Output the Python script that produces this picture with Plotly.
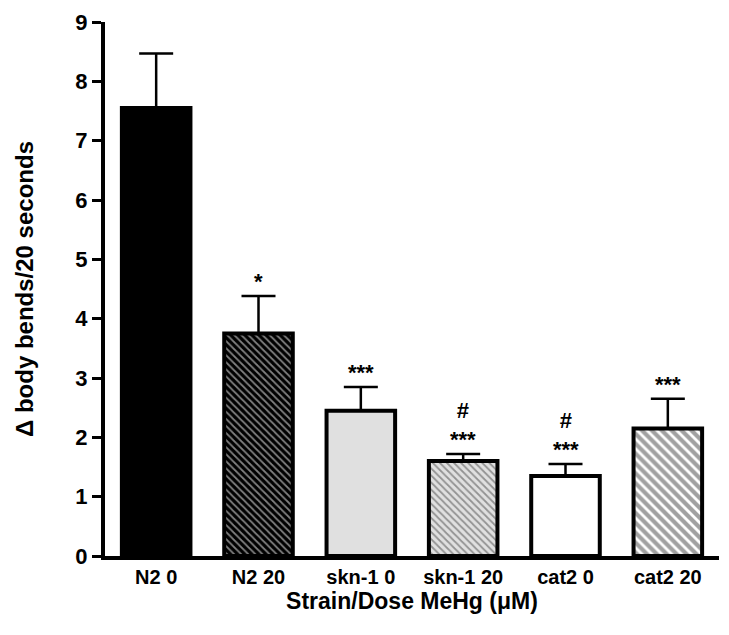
import plotly.graph_objects as go

categories = ["N2 0", "N2 20", "skn-1 0", "skn-1 20", "cat2 0", "cat2 20"]
means = [7.55, 3.75, 2.45, 1.6, 1.35, 2.15]
sem = [0.92, 0.63, 0.40, 0.12, 0.20, 0.50]
sig = ["", "*", "***", "#<br>***", "#<br>***", "***"]

fills = ["black", "black", "#e0e0e0", "#e0e0e0", "white", "white"]
pat_shapes = ["", "\\", "", "\\", "", "\\"]
pat_fg = ["black", "white", "white", "white", "white", "black"]
pat_solid = [0.3, 0.35, 0.3, 0.35, 0.3, 0.6]
pat_size = [5, 5, 5, 5, 5, 7]

FONT = "Liberation Sans, Arial, sans-serif"

fig = go.Figure()
fig.add_trace(go.Bar(
    x=categories, y=means,
    width=0.67,
    marker=dict(
        color=fills,
        line=dict(color="black", width=4),
        pattern=dict(shape=pat_shapes, fgcolor=pat_fg, bgcolor=fills,
                     size=pat_size, solidity=pat_solid, fillmode="overlay"),
    ),
    error_y=dict(type="data", symmetric=False, array=sem,
                 arrayminus=[0]*len(sem), color="black", thickness=2.5, width=17),
))

for c, m, s, t in zip(categories, means, sem, sig):
    if t:
        fig.add_annotation(x=c, y=m + s, text="<b>" + t + "</b>", showarrow=False,
                           yanchor="bottom", yshift=0,
                           font=dict(family=FONT, size=22, color="black"))

fig.update_layout(
    width=729, height=635,
    margin=dict(l=97, r=18, t=14, b=87),
    plot_bgcolor="white", paper_bgcolor="white",
    showlegend=False,
    font=dict(family=FONT, color="black"),
)
fig.update_xaxes(
    range=[-0.5, 5.5], showline=True, linecolor="black", linewidth=4,
    ticks="", automargin=False, ticklabeloverflow="allow",
    tickfont=dict(size=20, family=FONT, weight="bold"),
    title=dict(text="<b>Strain/Dose MeHg (μM)</b>", font=dict(size=23), standoff=2),
    showgrid=False, zeroline=False,
)
fig.update_yaxes(
    range=[0, 9], dtick=1, showline=True, linecolor="black", linewidth=4,
    ticks="outside", ticklen=9, tickwidth=3, tickcolor="black", automargin=False,
    ticklabeloverflow="allow",
    tickfont=dict(size=22, family=FONT, weight="bold"),
    title=dict(text="<b>Δ body bends/20 seconds</b>", font=dict(size=24), standoff=36),
    showgrid=False, zeroline=False,
)

fig.write_html("out.html")
